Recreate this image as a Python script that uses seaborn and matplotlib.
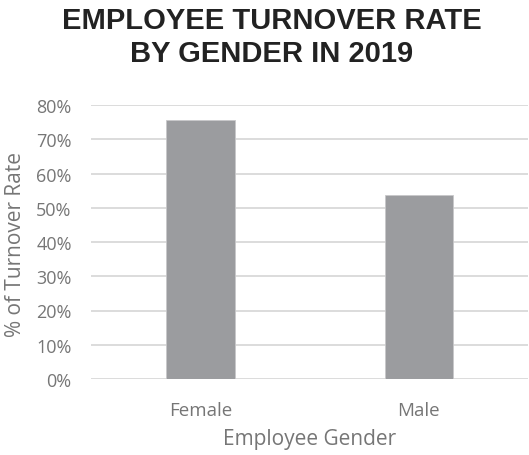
import matplotlib
matplotlib.use("Agg")
import matplotlib.pyplot as plt
import seaborn as sns
import pandas as pd
from matplotlib.ticker import PercentFormatter

genders = ["Female", "Male"]
turnover_rate = [0.755, 0.537]
y_ticks = [0.0, 0.1, 0.2, 0.3, 0.4, 0.5, 0.6, 0.7, 0.8]

df = pd.DataFrame({"Employee Gender": genders, "Turnover": turnover_rate})

sns.set_theme(style="white")
plt.rcParams["font.family"] = ["Open Sans", "DejaVu Sans"]

TEXT_GREY = "#767676"
W, H = 529, 456
fig = plt.figure(figsize=(W / 100, H / 100), dpi=100)
ax = fig.add_axes([91.5 / W, (H - 380) / H, (528 - 91.5) / W, (380 - 106) / H])

sns.barplot(data=df, x="Employee Gender", y="Turnover", color="#9b9c9f",
            saturation=1, width=0.315, edgecolor="#c8c8ca", linewidth=0.6,
            ax=ax, zorder=3)

ax.set_ylim(0, 0.8)
ax.set_yticks(y_ticks)
ax.yaxis.set_major_formatter(PercentFormatter(1.0, decimals=0))
ax.grid(axis="y", color="#d9d9d9", linewidth=1.3, zorder=0)
ax.set_axisbelow(True)
for s in ax.spines.values():
    s.set_visible(False)
ax.tick_params(axis="both", length=0, labelcolor=TEXT_GREY)
ax.tick_params(axis="y", labelsize=13, pad=14.3)
ax.tick_params(axis="x", labelsize=13.5, pad=15.5)

ax.set_xlabel("Employee Gender", fontsize=15, color=TEXT_GREY)
ax.xaxis.label.set_va("baseline")
ax.xaxis.set_label_coords(0.5, (380 - 445) / 274)

ax.set_ylabel("% of Turnover Rate", fontsize=15, color=TEXT_GREY)
ax.yaxis.label.set_va("center")
ax.yaxis.set_label_coords((16 - 91.5) / 436.5, 0.5 + (380 - 244.5 - 137) / 274)

title_font = dict(ha="center", va="center", fontsize=21, fontweight="bold",
                  color="#222222", family=["Liberation Sans", "DejaVu Sans"])
fig.text(272 / W, 1 - 21 / H, "EMPLOYEE TURNOVER RATE", **title_font)
fig.text(272 / W, 1 - 54 / H, "BY GENDER IN 2019", **title_font)

fig.savefig("out.png", dpi=100)
